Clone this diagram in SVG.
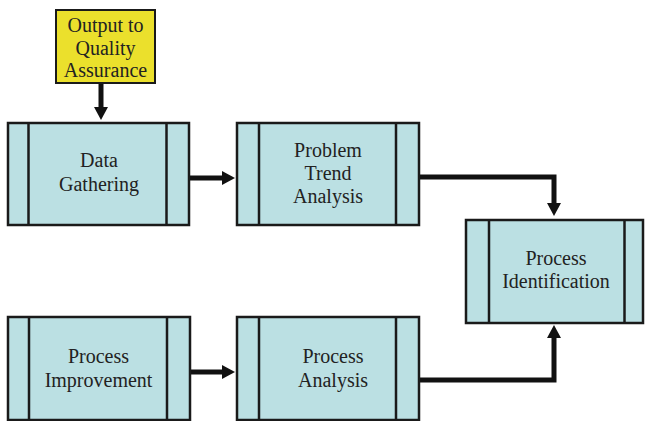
<svg xmlns="http://www.w3.org/2000/svg" width="645" height="421" viewBox="0 0 645 421">
<style>
.box{fill:#bbe0e3;stroke:#1a1a1a;stroke-width:2.5}
.yel{fill:#ebe02c;stroke:#1a1a1a;stroke-width:2}
.div{stroke:#1a1a1a;stroke-width:2.5}
.t{font-family:"Liberation Serif","Times New Roman",serif;font-size:20px;fill:#222;text-anchor:middle}
.c{fill:none;stroke:#111;stroke-width:5}
</style>
<defs>
<marker id="ah" markerWidth="2.6" markerHeight="2.8" refX="0" refY="1.4" orient="auto" markerUnits="strokeWidth">
<path d="M0,0 L2.6,1.4 L0,2.8 Z" fill="#111"/>
</marker>
</defs>
<g id="connectors">
<path class="c" d="M101,83 V107" marker-end="url(#ah)"/>
<path class="c" d="M189,178 H222" marker-end="url(#ah)"/>
<path class="c" d="M419,177 H554 V203" marker-end="url(#ah)"/>
<path class="c" d="M190,372 H222" marker-end="url(#ah)"/>
<path class="c" d="M419,380 H554 V338" marker-end="url(#ah)"/>
</g>
<g id="output-qa">
<rect class="yel" x="56" y="10" width="99" height="73"/>
<text class="t" x="105.5" y="32">Output to</text>
<text class="t" x="105.5" y="55">Quality</text>
<text class="t" x="105.5" y="77">Assurance</text>
</g>
<g id="data-gathering">
<rect class="box" x="8" y="123" width="181" height="102"/>
<line class="div" x1="28.5" y1="123" x2="28.5" y2="225"/>
<line class="div" x1="166.5" y1="123" x2="166.5" y2="225"/>
<text class="t" x="99" y="167">Data</text>
<text class="t" x="99" y="191">Gathering</text>
</g>
<g id="problem-trend">
<rect class="box" x="237" y="123" width="182" height="102"/>
<line class="div" x1="259" y1="123" x2="259" y2="225"/>
<line class="div" x1="396" y1="123" x2="396" y2="225"/>
<text class="t" x="328" y="157">Problem</text>
<text class="t" x="328" y="180">Trend</text>
<text class="t" x="328" y="203">Analysis</text>
</g>
<g id="process-identification">
<rect class="box" x="466" y="220" width="177" height="103"/>
<line class="div" x1="489" y1="220" x2="489" y2="323"/>
<line class="div" x1="624.5" y1="220" x2="624.5" y2="323"/>
<text class="t" x="556" y="265">Process</text>
<text class="t" x="556" y="288">Identification</text>
</g>
<g id="process-improvement">
<rect class="box" x="8" y="317" width="182" height="103"/>
<line class="div" x1="29" y1="317" x2="29" y2="420"/>
<line class="div" x1="167" y1="317" x2="167" y2="420"/>
<text class="t" x="98.5" y="363">Process</text>
<text class="t" x="98.5" y="387">Improvement</text>
</g>
<g id="process-analysis">
<rect class="box" x="237" y="317" width="182" height="103"/>
<line class="div" x1="259" y1="317" x2="259" y2="420"/>
<line class="div" x1="396" y1="317" x2="396" y2="420"/>
<text class="t" x="333" y="363">Process</text>
<text class="t" x="333" y="387">Analysis</text>
</g>
</svg>
